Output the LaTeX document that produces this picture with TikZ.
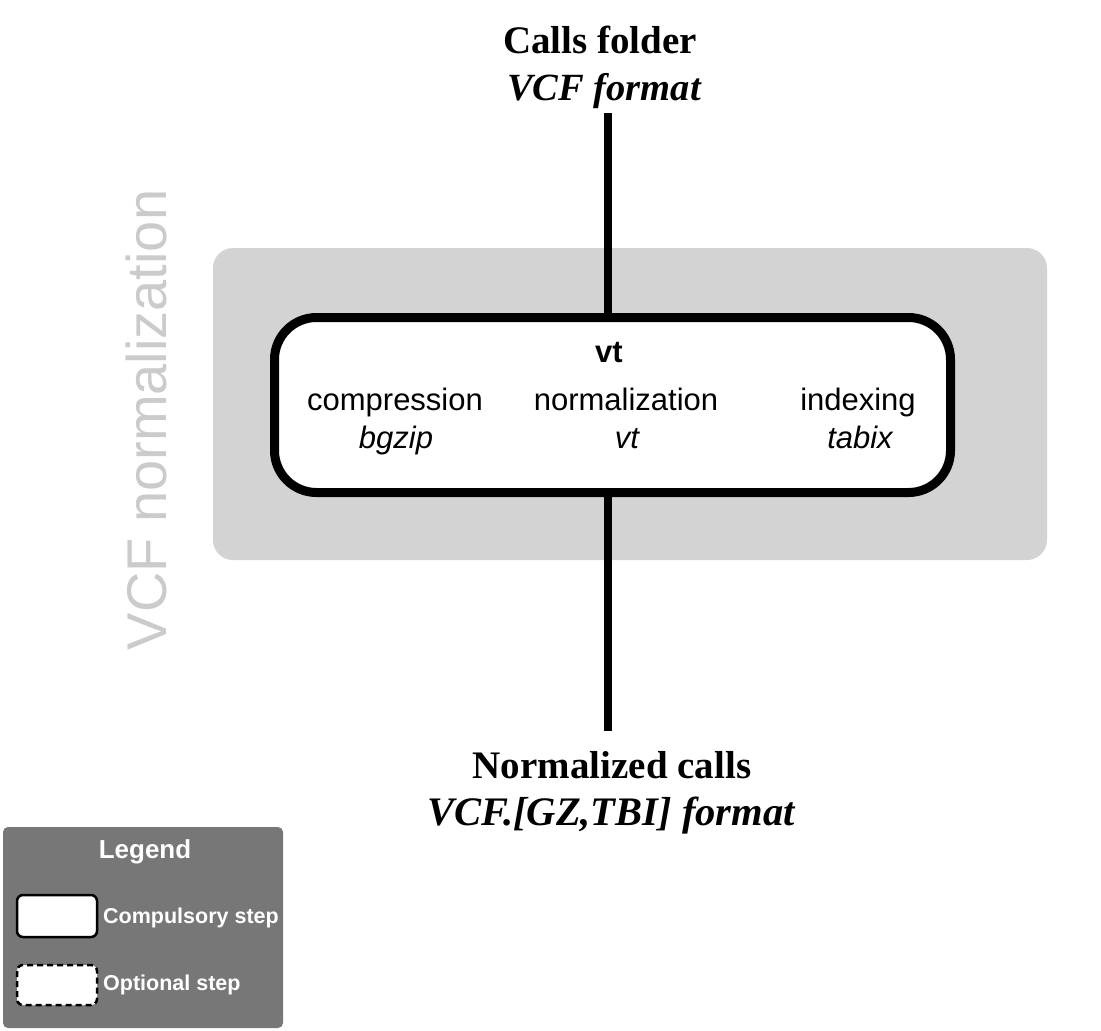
\documentclass[tikz,border=0pt]{standalone}
\usepackage{fontspec}
\setmainfont{Liberation Serif}
\setsansfont{Liberation Sans}
\usetikzlibrary{backgrounds}
\definecolor{regiongray}{HTML}{D3D3D3}
\definecolor{labelgray}{HTML}{CBCBCB}
\definecolor{legendgray}{HTML}{777777}
\begin{document}
\begin{tikzpicture}[x=1pt,y=-1pt,
  iotitle/.style={inner sep=0pt, anchor=base, font=\fontsize{39}{47}\selectfont\bfseries},
  iofmt/.style={inner sep=0pt, anchor=base, font=\fontsize{38.5}{47}\selectfont\bfseries\itshape},
  steptext/.style={inner sep=0pt, anchor=base, font=\sffamily\fontsize{31}{36}\selectfont},
  stepsub/.style={inner sep=0pt, anchor=base, font=\sffamily\fontsize{31}{36}\selectfont\itshape},
  connector/.style={line width=8pt},
  stepbox/.style={draw=black, fill=white, line width=9pt, rounded corners=42pt,
      minimum width=676pt, minimum height=175pt, inner sep=0pt},
  legtext/.style={inner sep=0pt, anchor=base west, text=white, font=\sffamily\bfseries\fontsize{21.5}{26}\selectfont},
  legbox/.style={draw=black, fill=white, line width=2.5pt, rounded corners=6pt}
]
\useasboundingbox (0,0) rectangle (1101,1031);

% grey region label
\node[rotate=90, anchor=base, inner sep=0pt, text=labelgray,
      font=\sffamily\fontsize{56}{68}\selectfont] (grplabel) at (166,420) {VCF normalization};

% input / output
\node[iotitle] (in) at (600,53) {Calls folder};
\node[iofmt] (infmt) at (604,100) {VCF format};
\node[iotitle] (out) at (612,778) {Normalized calls};
\node[iofmt, font=\fontsize{40.5}{47}\selectfont\bfseries\itshape] (outfmt) at (611,825) {VCF.[GZ,TBI] format};

% main step box
\node[stepbox] (box) at (612.5,405) {};

\begin{pgfonlayer}{background}
\path[fill=regiongray, rounded corners=20pt] (213,248) rectangle (1047,560);
\draw[connector, shorten <=5pt] (infmt.south -| 608,0) -- (box.north -| 608,0);
\draw[connector, shorten >=20pt] (box.south -| 608,0) -- (out.north -| 608,0);
\end{pgfonlayer}

\node[steptext, font=\sffamily\bfseries\fontsize{31}{36}\selectfont] (vt) at (609,362) {vt};
\node[steptext] (comp) at (395,410) {compression};
\node[stepsub] (bgzip) at (396,448) {bgzip};
\node[steptext] (norm) at (626,410) {normalization};
\node[stepsub] (vtsub) at (627,448) {vt};
\node[steptext] (idx) at (858,410) {indexing};
\node[stepsub] (tabix) at (860,448) {tabix};

% legend
\path[fill=legendgray, rounded corners=5pt] (3,827) rectangle (283,1028);
\node[inner sep=0pt, anchor=base, text=white, font=\sffamily\bfseries\fontsize{26}{31}\selectfont] (legtitle) at (145,858) {Legend};
\draw[legbox] (17,895) rectangle (97,937);
\draw[legbox, dashed, dash pattern=on 6pt off 4pt] (17,965) rectangle (97,1005);
\node[legtext] (legcomp) at (103,923) {Compulsory step};
\node[legtext] (legopt) at (103,990) {Optional step};
\end{tikzpicture}
\end{document}
